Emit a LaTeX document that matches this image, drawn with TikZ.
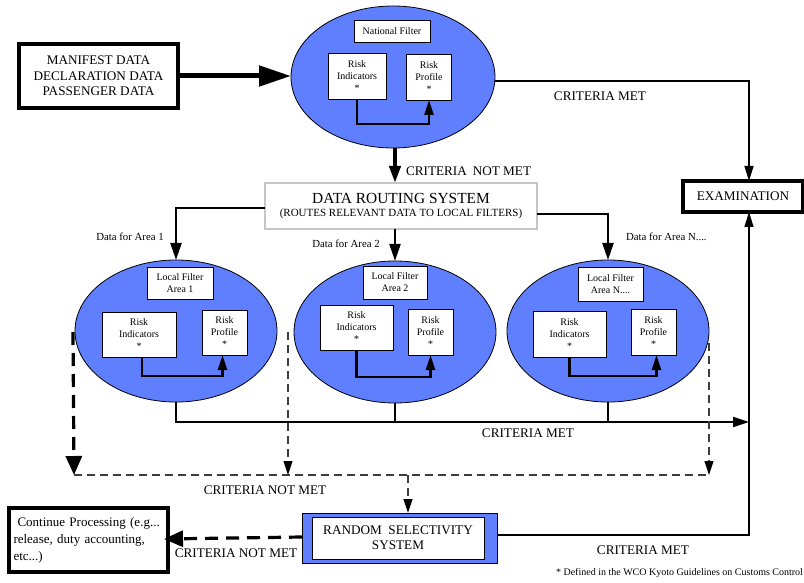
\documentclass[tikz,border=0pt]{standalone}
\usepackage{fontspec}
\setmainfont{Liberation Serif}
\usetikzlibrary{arrows.meta,shapes.geometric,shadows,calc}
\definecolor{fblue}{RGB}{95,127,255}
\definecolor{dashgray}{RGB}{60,60,60}
\begin{document}
\begin{tikzpicture}[x=1pt,y=-1pt,
  every node/.style={inner sep=0pt, outer sep=0pt},
  filter/.style={ellipse, draw=black, line width=0.8pt, fill=fblue, minimum width=202pt, minimum height=142pt},
  ibox/.style={draw=black, line width=0.9pt, fill=white, align=center, font=\fontsize{10}{12}\selectfont},
  bigbox/.style={draw=black, line width=3.2pt, fill=white, align=center, font=\fontsize{13.2}{15.5}\selectfont},
  lbl/.style={font=\fontsize{13.2}{15}\selectfont},
  slbl/.style={font=\fontsize{10.8}{13}\selectfont},
  thinarrow/.style={line width=1.3pt, -{Triangle[length=15pt,width=9pt]}},
  thinline/.style={line width=1.3pt},
  medarrow/.style={line width=2.2pt, -{Triangle[length=17pt,width=11pt]}},
  medline/.style={line width=2pt},
  innerarrow/.style={line width=2.4pt, -{Triangle[length=15pt,width=9pt]}},
  thindash/.style={draw=dashgray, line width=1.1pt, dash pattern=on 8pt off 5pt},
  thindasharrow/.style={thindash, -{Triangle[length=14pt,width=9pt,color=black]}},
  thickdasharrow/.style={line width=3.2pt, dash pattern=on 13pt off 8pt, -{Triangle[length=19pt,width=16pt]}}
]
\useasboundingbox (0,0) rectangle (804,583);

% ---------- input box ----------
\node[bigbox, minimum width=159pt, minimum height=64pt] (manifest) at (98.5,76)
  {MANIFEST DATA\\DECLARATION DATA\\PASSENGER DATA};

% ---------- national filter ----------
\node[filter, minimum width=204pt] (nat) at (393,77) {};
\node[ibox, minimum width=76pt, minimum height=22pt] (natname) at (392,31) {National Filter};
\node[ibox, minimum width=58pt, minimum height=46pt] (natri) at (357,76) {Risk\\Indicators\\*};
\node[ibox, minimum width=45pt, minimum height=46pt] (natrp) at (429,77) {Risk\\Profile\\*};
\draw[innerarrow] (natri.south) -- ++(0,25) -| (natrp.south);

\draw[line width=5pt, -{Triangle[length=32pt,width=20pt]}] (manifest.east) -- (manifest.east -| nat.west);

% ---------- examination ----------
\node[bigbox, minimum width=120pt, minimum height=31pt] (exam) at (743,196.5) {EXAMINATION};
\draw[thinarrow] ([yshift=-4pt]nat.east) -| ([xshift=6pt]exam.north);
\node[lbl] (cm1) at (600,96) {CRITERIA MET};

% ---------- data routing system ----------
\node[draw=gray!45, line width=1.2pt, fill=white, minimum width=272pt, minimum height=46pt,
      drop shadow={shadow xshift=-1.5pt, shadow yshift=-1.5pt, fill=gray!35},
      align=center] (drs) at (401,206)
  {{\fontsize{15.4}{17}\selectfont DATA ROUTING SYSTEM}\\[1pt]{\fontsize{11}{12}\selectfont (ROUTES RELEVANT DATA TO LOCAL FILTERS)}};
\draw[line width=4pt, -{Triangle[length=17pt,width=11pt]}] ([xshift=2pt]nat.south) -- ([xshift=2pt]nat.south |- drs.north);
\node[lbl, anchor=west] (cnm1) at (406,171) {CRITERIA\hspace{0.45em}NOT MET};

% ---------- local filters ----------
\node[filter] (e1) at (176,331) {};
\node[filter] (e2) at (395,332) {};
\node[filter] (e3) at (608,331) {};

\node[ibox, minimum width=66pt, minimum height=32pt] (lf1) at (180,283) {Local Filter\\Area 1};
\node[ibox, minimum width=74pt, minimum height=45pt] (ri1) at (139,334.5) {Risk\\Indicators\\*};
\node[ibox, minimum width=45pt, minimum height=45pt] (rp1) at (224.5,332.5) {Risk\\Profile\\*};
\draw[innerarrow] ([xshift=3pt]ri1.south) -- ++(0,19) -| ([xshift=-2pt]rp1.south);

\node[ibox, minimum width=64pt, minimum height=33pt] (lf2) at (395,282.5) {Local Filter\\Area 2};
\node[ibox, minimum width=73pt, minimum height=45pt] (ri2) at (356.5,327.5) {Risk\\Indicators\\*};
\node[ibox, minimum width=45pt, minimum height=46pt] (rp2) at (430.5,332) {Risk\\Profile\\*};
\draw[innerarrow] (ri2.south) -- ++(0,27) -| (rp2.south);

\node[ibox, minimum width=65pt, minimum height=34pt] (lf3) at (610.5,284) {Local Filter\\Area N....};
\node[ibox, minimum width=73pt, minimum height=46pt] (ri3) at (569.5,334) {Risk\\Indicators\\*};
\node[ibox, minimum width=45pt, minimum height=46pt] (rp3) at (653.5,332) {Risk\\Profile\\*};
\draw[innerarrow] (ri3.south) -- ++(0,19) -| ([xshift=3pt]rp3.south);

% routing connectors
\draw[medarrow] ([yshift=-2pt]drs.west) -| (e1.north);
\draw[medarrow] (e2.north |- drs.south) -- (e2.north);
\draw[medarrow] ([yshift=-8pt]drs.east) -| (e3.north);
\node[slbl] (da1) at (130,237) {Data for Area 1};
\node[slbl] (da2) at (346,244) {Data for Area 2};
\node[slbl, anchor=west] (da3) at (626,237) {Data for Area N....};

% ---------- criteria met (local) ----------
\coordinate (cmend) at (749,422);
\draw[medline, -{Triangle[length=16pt,width=10pt]}] (e1.south) |- (cmend);
\draw[medline] (e2.south) -- (e2.south |- cmend);
\draw[medline] (e3.south) -- (e3.south |- cmend);
\node[lbl] (cm2) at (528,433) {CRITERIA MET};

% ---------- random selectivity ----------
\node[draw=black, line width=0.8pt, fill=fblue, minimum width=195pt, minimum height=50pt] (rs) at (399.5,538) {};
\node[draw=black, line width=0.8pt, fill=white, minimum width=172pt, minimum height=42pt, align=center,
      font=\fontsize{13.2}{15}\selectfont] (rsin) at (398,538) {RANDOM\hspace{0.5em}SELECTIVITY\\SYSTEM};

\draw[thinarrow] ([yshift=3pt]rs.east) -| ([xshift=6pt]exam.south);
\node[lbl] (cm3) at (643,550) {CRITERIA MET};

% ---------- criteria not met (local) ----------
\coordinate (dl) at (74,475);
\coordinate (d2) at (288,475);
\coordinate (dr) at (709,475);
\coordinate (dj) at (408,475);
\draw[thindash] (dl) -- (dr);
\draw[thickdasharrow] ([xshift=-2pt,yshift=-1pt]e1.west) -- (dl);
\draw[thindasharrow] (e2.west -| d2) -- (d2);
\draw[thindasharrow] ([yshift=-12pt]e3.east) -- (dr);
\draw[thindasharrow] (dj) -- (dj |- rs.north);
\node[lbl] (cnm2) at (265,490) {CRITERIA NOT MET};

% ---------- continue processing ----------
\node[bigbox, minimum width=159pt, minimum height=64pt, text width=150pt, align=left,
      font=\fontsize{13}{17}\selectfont] (cp) at (88.5,540)
  {\hspace*{4pt}Continue Processing (e.g...\\release, duty accounting,\\etc...)};
\draw[thickdasharrow] ([yshift=1pt]rs.west) -- ([xshift=-4pt,yshift=1pt]cp.east);
\node[lbl] (cnm3) at (236,553) {CRITERIA NOT MET};

% ---------- footnote ----------
\node[font=\fontsize{10}{12}\selectfont, anchor=east] (fn) at (803,573) {* Defined in the WCO Kyoto Guidelines on Customs Control};
\end{tikzpicture}
\end{document}
